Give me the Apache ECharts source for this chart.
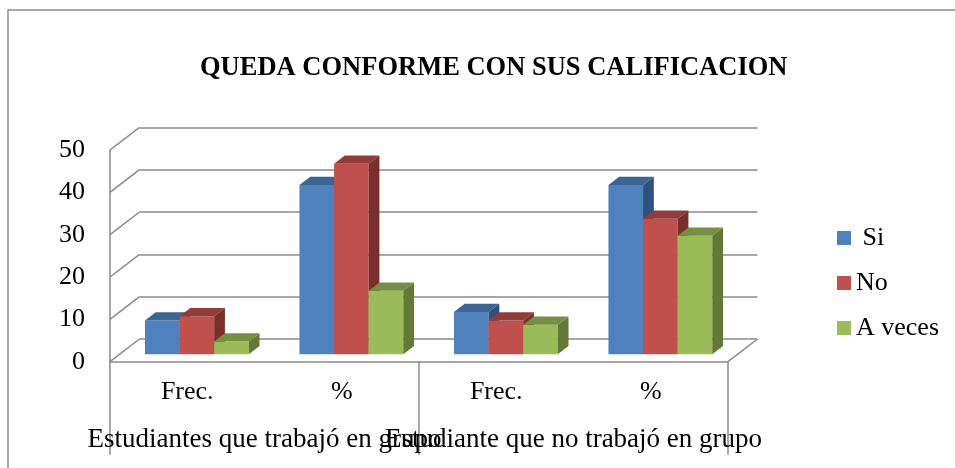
<!DOCTYPE html>
<html>
<head>
<meta charset="utf-8">
<script src="https://cdn.jsdelivr.net/npm/echarts@6/dist/echarts.min.js"></script>
<style>
  html, body { margin: 0; padding: 0; background: #fff; }
  #chart { width: 955px; height: 468px; }
</style>
</head>
<body>
<div id="chart"></div>
<script>
const categories = ['Frec.', '%', 'Frec.', '%']
const groups = ['Estudiantes que trabajó en grupo', 'Estudiante que no trabajó en grupo']
const seriesNames = [' Si', 'No', 'A veces']
const si = [8, 40, 10, 40]
const no = [9, 45, 8, 32]
const aVeces = [3, 15, 7, 28]
const yTicks = [0, 10, 20, 30, 40, 50]

// colores: frente, arriba, lado
const palette = [
  ['#4F81BD', '#3D6594', '#2F5180'],
  ['#C0504D', '#923C3A', '#7A2F2D'],
  ['#9BBB59', '#778F44', '#637A37']
]

// profundidad del piso (3D falso)
const DX = 29.5
const DY = -22.7
const F0 = 0.326
const F1 = 0.69
const FONT = '"Liberation Serif", "Times New Roman", serif'
const GRID = { left: 110, top: 150, width: 618, height: 211.7 }
const LINE = '#8a8a8a'

const barItem = idx => (params, api) => {
  const cat = api.value(0)
  const v = api.value(1)
  const base = api.coord([cat, 0])
  const top = api.coord([cat, v])
  const w = api.size([1, 0])[0] * 0.224
  const x0 = base[0] - 1.5 * w + idx * w + F0 * DX
  const yb = base[1] + F0 * DY
  const yt = top[1] + F0 * DY
  const ddx = (F1 - F0) * DX
  const ddy = (F1 - F0) * DY
  const c = palette[idx]
  return {
    type: 'group',
    children: [
      { type: 'rect', shape: { x: x0, y: yt, width: w, height: yb - yt }, style: { fill: c[0] } },
      { type: 'polygon', shape: { points: [[x0, yt], [x0 + w, yt], [x0 + w + ddx, yt + ddy], [x0 + ddx, yt + ddy]] }, style: { fill: c[1] } },
      { type: 'polygon', shape: { points: [[x0 + w, yt], [x0 + w + ddx, yt + ddy], [x0 + w + ddx, yb + ddy], [x0 + w, yb]] }, style: { fill: c[2] } }
    ]
  }
}

const wallItem = (params, api) => {
  const p = api.coord([0, api.value(1)])
  const cs = params.coordSys
  const lines = [
    { type: 'line', shape: { x1: cs.x, y1: p[1], x2: cs.x + DX, y2: p[1] + DY }, style: { stroke: LINE, lineWidth: 1.5 } }
  ]
  if (api.value(1) === 0) {
    lines.push({ type: 'line', shape: { x1: cs.x + cs.width, y1: p[1], x2: cs.x + cs.width + DX, y2: p[1] + DY }, style: { stroke: LINE, lineWidth: 1.5 } })
  }
  return { type: 'group', children: lines }
}

const chart = echarts.init(document.getElementById('chart'))
const allData = [si, no, aVeces]

chart.setOption({
  animation: false,
  title: {
    text: 'QUEDA CONFORME CON SUS CALIFICACION',
    left: 195,
    top: 50,
    textStyle: { fontFamily: FONT, fontSize: 26.5, fontWeight: 'bold', color: '#000' }
  },
  legend: {
    orient: 'vertical',
    left: 832,
    top: 220,
    itemWidth: 14,
    itemHeight: 14,
    itemGap: 19,
    icon: 'rect',
    data: seriesNames,
    textStyle: { fontFamily: FONT, fontSize: 26, color: '#000' }
  },
  graphic: [
    { type: 'rect', shape: { x: 8, y: 10, width: 1000, height: 500 }, style: { fill: null, stroke: LINE, lineWidth: 1.5 }, silent: true }
  ],
  grid: [
    { left: GRID.left, top: GRID.top, width: GRID.width, height: GRID.height },
    { left: GRID.left + DX, top: GRID.top + DY, width: GRID.width, height: GRID.height }
  ],
  xAxis: [
    {
      type: 'category', gridIndex: 0, data: categories,
      axisLine: { lineStyle: { color: LINE, width: 1.5 } },
      axisTick: { show: false },
      axisLabel: { margin: 17, interval: 0, fontFamily: FONT, fontSize: 26, color: '#000' }
    },
    {
      type: 'category', gridIndex: 0, data: groups, position: 'bottom',
      axisLine: { show: false },
      axisTick: { show: true, length: 93, lineStyle: { color: LINE, width: 1.5 } },
      axisLabel: { margin: 65, interval: 0, fontFamily: FONT, fontSize: 27, color: '#000' }
    },
    { type: 'category', gridIndex: 1, data: categories, show: false }
  ],
  yAxis: [
    {
      type: 'value', gridIndex: 0, min: 0, max: 50, interval: 10,
      axisLine: { show: true, lineStyle: { color: LINE, width: 1.5 } },
      axisTick: { show: false },
      splitLine: { show: false },
      axisLabel: { margin: 25, fontFamily: FONT, fontSize: 26, color: '#000' }
    },
    {
      type: 'value', gridIndex: 1, min: 0, max: 50, interval: 10,
      axisLine: { show: false },
      axisTick: { show: false },
      axisLabel: { show: false },
      splitLine: { lineStyle: { color: LINE, width: 1.5 } }
    }
  ],
  series: [
    {
      type: 'custom', name: 'wall', xAxisIndex: 0, yAxisIndex: 0,
      renderItem: wallItem, silent: true, z: 1,
      data: yTicks.map(v => [0, v])
    },
    ...seriesNames.map((name, i) => ({
      type: 'custom',
      name,
      xAxisIndex: 0,
      yAxisIndex: 0,
      itemStyle: { color: palette[i][0] },
      renderItem: barItem(i),
      z: 3,
      data: allData[i].map((v, k) => [k, v])
    }))
  ]
})
</script>
</body>
</html>
